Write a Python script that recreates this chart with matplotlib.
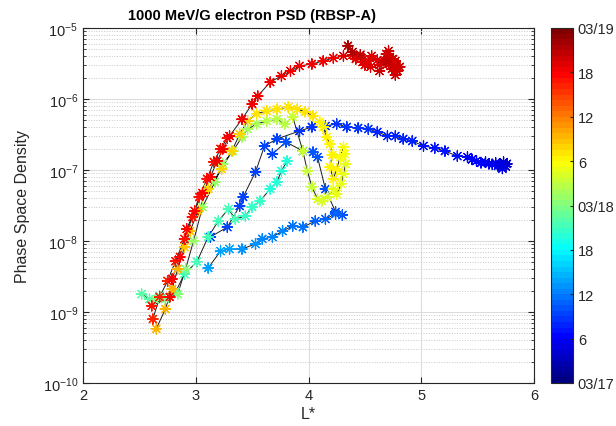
#!/usr/bin/env python3
"""
1000 MeV/G electron phase space density vs L* for RBSP-A, coloured by time.
"""

import matplotlib

matplotlib.use("Agg")

import matplotlib.pyplot as plt
from matplotlib.cm import ScalarMappable
from matplotlib.colors import LinearSegmentedColormap, Normalize
from matplotlib.ticker import NullLocator

plt.rcParams.update(
    {
        "font.family": ["Liberation Sans", "DejaVu Sans"],
        "mathtext.fontset": "custom",
        "mathtext.rm": "Liberation Sans",
        "mathtext.it": "Liberation Sans:italic",
        "mathtext.bf": "Liberation Sans:bold",
    }
)

# hours after 03/17 00:00 for the colour scale
CBAR_TICKS = [0, 6, 12, 18, 24, 30, 36, 42, 48]
CBAR_LABELS = ["03/17", "6", "12", "18", "03/18", "6", "12", "18", "03/19"]

# pass 1: inbound from apogee (dark blue)
l_pass1 = [5.76, 5.75, 5.73, 5.72, 5.70, 5.68, 5.66, 5.63, 5.60, 5.57, 5.53, 5.49, 5.45,
           5.41, 5.32, 5.21, 5.12, 5.02, 4.92, 4.84, 4.77, 4.70, 4.61, 4.53, 4.44, 4.34,
           4.25, 4.15, 4.03, 3.92, 3.72, 3.61, 3.53, 3.42, 3.39, 3.28, 3.13]
psd_pass1 = [1.22e-7, 1.12e-7, 1.29e-7, 1.05e-7, 1.17e-7, 1.14e-7, 1.26e-7, 1.20e-7,
             1.22e-7, 1.29e-7, 1.26e-7, 1.34e-7, 1.41e-7, 1.52e-7, 1.57e-7, 1.85e-7,
             2.04e-7, 2.18e-7, 2.56e-7, 2.74e-7, 3.01e-7, 3.01e-7, 3.43e-7, 3.78e-7,
             3.91e-7, 4.04e-7, 4.45e-7, 4.17e-7, 4.04e-7, 3.54e-7, 2.74e-7, 2.18e-7,
             9.4e-8, 4.17e-8, 3.11e-8, 1.57e-8, 1.14e-8]
hour_pass1 = [4.0, 4.2, 4.4, 4.6, 4.8, 5.0, 5.2, 5.4, 5.6, 5.8, 6.0, 6.2, 6.4, 6.6, 6.8,
              7.0, 7.2, 7.4, 7.6, 7.8, 8.0, 8.1, 8.2, 8.3, 8.4, 8.5, 8.6, 8.7, 8.8, 8.9,
              9.0, 9.1, 9.2, 9.3, 9.4, 9.5, 9.6]

# pass 2: outbound then inbound (blue -> light blue)
l_pass2 = [3.68, 3.80, 3.95, 4.04, 4.08, 4.15, 4.24, 4.30,
           4.24, 4.15, 4.06, 3.95, 3.86, 3.77, 3.68, 3.59, 3.53, 3.41, 3.30, 3.22, 3.11]
psd_pass2 = [1.68e-7, 2.48e-7, 1.85e-7, 1.79e-7, 1.52e-7, 5.4e-8, 2.56e-8, 2.32e-8,
             2.40e-8, 2.04e-8, 1.91e-8, 1.57e-8, 1.63e-8, 1.38e-8, 1.14e-8, 1.07e-8,
             9.1e-9, 7.7e-9, 7.7e-9, 7.2e-9, 4.17e-9]
hour_pass2 = [9.7, 9.8, 9.9, 10.0, 10.1, 10.2, 10.3, 10.4,
              10.5, 10.8, 11.1, 11.4, 11.7, 12.0, 12.3, 12.6, 12.9, 13.2, 13.5, 13.8, 14.2]

# pass 3: inbound (teal)
l_pass3 = [3.81, 3.76, 3.72, 3.66, 3.57, 3.50, 3.44, 3.35, 3.29, 3.20, 3.11, 3.01, 2.90,
           2.82, 2.68, 2.59, 2.52]
psd_pass3 = [1.34e-7, 9.7e-8, 6.8e-8, 5.4e-8, 3.66e-8, 3.01e-8, 2.25e-8, 2.04e-8, 2.82e-8,
             1.91e-8, 1.14e-8, 5.1e-9, 3.43e-9, 1.91e-9, 1.68e-9, 1.52e-9, 1.79e-9]
hour_pass3 = [19.6, 19.8, 20.0, 20.2, 20.4, 20.6, 20.8, 21.0, 21.1, 21.2, 21.3, 21.4, 21.5,
              21.6, 21.7, 21.8, 22.0]

# pass 4: outbound (green), loop near L*=4.2, inbound (yellow)
l_pass4 = [2.64, 2.73, 2.84, 2.91, 2.98, 3.06, 3.17, 3.24, 3.33, 3.41, 3.46, 3.54, 3.63,
           3.72, 3.79, 3.86, 3.95, 3.99, 4.03, 4.08, 4.12, 4.17, 4.22,
           4.25, 4.29, 4.31, 4.33, 4.32, 4.31, 4.28, 4.25, 4.22, 4.19, 4.21, 4.19, 4.16,
           4.13, 4.10, 4.04, 3.97, 3.90, 3.82, 3.72, 3.63, 3.54, 3.46, 3.39, 3.32, 3.23,
           3.11, 3.02, 2.95, 2.90, 2.84, 2.79, 2.73, 2.65]
psd_pass4 = [1.48e-9, 1.52e-9, 1.79e-9, 4.04e-9, 1.0e-8, 3.01e-8, 6.8e-8, 1.22e-7, 1.85e-7,
             2.92e-7, 3.78e-7, 4.45e-7, 4.90e-7, 5.2e-7, 4.45e-7, 5.6e-7, 1.85e-7, 9.7e-8,
             5.8e-8, 3.91e-8, 3.66e-8, 4.17e-8, 5.4e-8,
             4.59e-8, 6.4e-8, 8.8e-8, 1.22e-7, 1.68e-7, 2.11e-7, 1.52e-7, 1.03e-7, 7.5e-8,
             1.10e-7, 1.63e-7, 2.32e-7, 2.92e-7, 4.04e-7, 4.74e-7, 5.8e-7, 6.6e-7, 7.2e-7,
             7.7e-7, 7.2e-7, 6.8e-7, 6.2e-7, 4.90e-7, 3.21e-7, 1.85e-7, 1.03e-7, 5.4e-8,
             2.65e-8, 1.38e-8, 8.2e-9, 4.04e-9, 2.11e-9, 1.10e-9, 5.8e-10]
hour_pass4 = [23.6, 23.9, 24.2, 24.5, 24.8, 25.0, 25.2, 25.4, 25.6, 25.8, 26.0, 26.2, 26.4,
              26.6, 26.8, 27.0, 27.3, 27.5, 27.7, 27.9, 28.1, 28.3, 28.5,
              28.6, 28.8, 29.0, 29.2, 29.4, 29.6, 29.8, 30.0, 30.1, 30.2, 30.3, 30.4, 30.5,
              30.6, 30.7, 30.8, 30.9, 31.0, 31.1, 31.2, 31.3, 31.4, 31.5, 31.6, 31.8, 32.0,
              32.2, 32.4, 32.6, 32.8, 33.0, 33.2, 33.4, 33.6]

# pass 5: short outbound segment (red)
l_pass5 = [2.62, 2.68, 2.75, 2.82, 2.90, 2.97, 3.03, 3.10, 3.16, 3.22, 3.28]
psd_pass5 = [7.96e-10, 1.63e-9, 2.74e-9, 5.2e-9, 1.07e-8, 2.18e-8, 4.17e-8, 7.5e-8,
             1.30e-7, 1.98e-7, 2.82e-7]
hour_pass5 = [40.2, 40.3, 40.4, 40.5, 40.6, 40.7, 40.8, 40.9, 41.0, 41.1, 41.2]

# pass 6: outbound to apogee (red -> dark red)
l_pass6 = [2.61, 2.77, 2.79, 2.86, 2.92, 2.99, 3.06, 3.13, 3.19, 3.24, 3.30, 3.41, 3.50,
           3.55, 3.66, 3.76, 3.84, 3.92, 4.03, 4.13, 4.22, 4.31, 4.39, 4.42, 4.46, 4.48,
           4.50, 4.53, 4.55, 4.56, 4.61, 4.63, 4.63, 4.67, 4.69, 4.71, 4.73, 4.77, 4.79,
           4.81, 4.77, 4.75, 4.71, 4.72, 4.76, 4.74, 4.71, 4.69, 4.46, 4.39, 4.35]
psd_pass6 = [1.22e-9, 1.63e-9, 2.92e-9, 5.96e-9, 1.48e-8, 2.65e-8, 4.74e-8, 7.96e-8,
             1.34e-7, 1.98e-7, 3.01e-7, 5.2e-7, 8.5e-7, 1.10e-6, 1.73e-6, 2.11e-6, 2.48e-6,
             2.92e-6, 3.11e-6, 3.43e-6, 3.78e-6, 4.04e-6, 4.2e-6, 3.66e-6, 3.91e-6, 3.32e-6,
             3.01e-6, 3.43e-6, 2.83e-6, 4.04e-6, 3.54e-6, 3.01e-6, 2.48e-6, 3.43e-6, 4.30e-6,
             3.43e-6, 2.92e-6, 2.18e-6, 2.48e-6, 2.83e-6, 3.43e-6, 3.66e-6, 4.74e-6, 3.91e-6,
             3.21e-6, 2.65e-6, 3.11e-6, 3.32e-6, 4.2e-6, 4.59e-6, 5.6e-6]
hour_pass6 = [41.2, 41.3, 41.4, 41.5, 41.6, 41.7, 41.8, 41.9, 42.0, 42.05, 42.1, 42.15,
              42.2, 42.25, 42.3, 42.35, 42.4, 42.45, 42.5, 42.6, 42.7, 42.8,
              43.0, 43.05, 43.1, 43.15, 43.2, 43.25, 43.3, 43.35, 43.4, 43.45, 43.5, 43.55,
              43.6, 43.65, 43.7, 43.75, 43.8, 43.85, 43.9, 43.95, 44.0, 44.05, 44.1, 44.15,
              44.2, 44.25, 44.6, 45.0, 45.4]

PASSES = [
    (l_pass1, psd_pass1, hour_pass1),
    (l_pass2, psd_pass2, hour_pass2),
    (l_pass3, psd_pass3, hour_pass3),
    (l_pass4, psd_pass4, hour_pass4),
    (l_pass5, psd_pass5, hour_pass5),
    (l_pass6, psd_pass6, hour_pass6),
]

INK = "#262626"

# MATLAB-style jet with 64 levels
JET = LinearSegmentedColormap.from_list(
    "matlab_jet",
    [
        (0.0, (0.0, 0.0, 0.5)),
        (1 / 8, (0.0, 0.0, 1.0)),
        (3 / 8, (0.0, 1.0, 1.0)),
        (5 / 8, (1.0, 1.0, 0.0)),
        (7 / 8, (1.0, 0.0, 0.0)),
        (1.0, (0.5, 0.0, 0.0)),
    ],
    N=64,
)


def main():
    fig = plt.figure(figsize=(6.16, 4.27), dpi=100, facecolor="white")
    ax = fig.add_axes([83 / 616, 43 / 427, 451 / 616, 355 / 427])
    cax = fig.add_axes([551 / 616, 43 / 427, 22 / 616, 355 / 427])

    norm = Normalize(vmin=0, vmax=48)

    for l_vals, psd_vals, hours in PASSES:
        ax.plot(l_vals, psd_vals, color="#1a1a1a", linewidth=0.7, zorder=2)
        ax.scatter(l_vals, psd_vals, c=hours, cmap=JET, norm=norm, marker=(8, 2, 0),
                   s=55, linewidths=0.9, zorder=3)

    ax.set_xlim(2, 6)
    ax.set_yscale("log")
    ax.set_ylim(1e-10, 1e-5)
    ax.set_xticks([2, 3, 4, 5, 6])
    ax.xaxis.set_minor_locator(NullLocator())
    ax.set_axisbelow(True)
    ax.grid(True, which="major", color="#dcdcdc", linewidth=0.8)
    ax.grid(True, which="minor", axis="y", color="#c8c8c8", linestyle=":", linewidth=0.7)
    ax.tick_params(which="both", direction="in", top=True, right=True, colors=INK,
                   labelsize=10.5)
    ax.tick_params(which="major", length=4)
    ax.tick_params(which="minor", length=2)
    for spine in ax.spines.values():
        spine.set_color(INK)
        spine.set_linewidth(0.8)

    ax.set_xlabel("L*", fontsize=11.5, color=INK, labelpad=3)
    ax.set_ylabel("Phase Space Density", fontsize=11.5, color=INK, labelpad=9)
    fig.text(252 / 616, 1 - 16 / 427, "1000 MeV/G electron PSD (RBSP-A)", fontsize=10.5,
             fontweight="bold", color="black", ha="center", va="center")

    cbar = fig.colorbar(ScalarMappable(norm=norm, cmap=JET), cax=cax, ticks=CBAR_TICKS)
    cbar.set_ticklabels(CBAR_LABELS)
    cbar.ax.tick_params(direction="in", length=2, labelsize=10.5, colors=INK)
    cbar.outline.set_linewidth(0.8)
    cbar.outline.set_edgecolor(INK)

    fig.savefig("out.png", dpi=100)
    plt.close(fig)


if __name__ == "__main__":
    main()
